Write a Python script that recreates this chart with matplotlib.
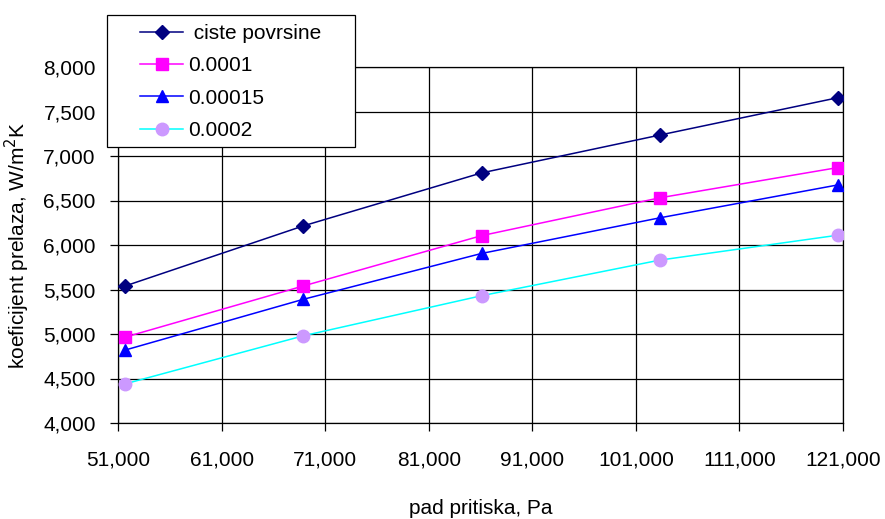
import matplotlib
matplotlib.use("Agg")
import matplotlib.pyplot as plt
from matplotlib.patches import Rectangle
from matplotlib.ticker import FuncFormatter, FixedLocator, MultipleLocator

plt.rcParams['font.family'] = ['Liberation Sans', 'DejaVu Sans']

# pressure drop, Pa
pad_pritiska = [51700, 68900, 86100, 103300, 120500]

# heat transfer coefficient, W/m2K, for each fouling factor
ciste_povrsine = [5540, 6215, 6810, 7235, 7655]
r_0001 = [4965, 5540, 6105, 6530, 6870]
r_00015 = [4820, 5390, 5905, 6305, 6675]
r_0002 = [4440, 4980, 5430, 5830, 6110]

series_labels = [" ciste povrsine", "0.0001", "0.00015", "0.0002"]
x_ticks = [51000, 61000, 71000, 81000, 91000, 101000, 111000, 121000]

W, H = 885, 519
fig = plt.figure(figsize=(W / 100, H / 100), dpi=100)
ax = fig.add_axes([118 / W, 1 - 423 / H, (843 - 118) / W, (423 - 67) / H])

FS = 15

ax.plot(pad_pritiska, ciste_povrsine, color='#000080', lw=1.1, marker='D',
        ms=7, mfc='#000080', mec='#000080', label=series_labels[0], zorder=4)
ax.plot(pad_pritiska, r_0001, color='#FF00FF', lw=1.1, marker='s',
        ms=9, mfc='#FF00FF', mec='#FF00FF', label=series_labels[1], zorder=4)
ax.plot(pad_pritiska, r_00015, color='#0000FF', lw=1.1, marker='^',
        ms=9, mfc='#0000FF', mec='#0000FF', label=series_labels[2], zorder=4)
ax.plot(pad_pritiska, r_0002, color='#00FFFF', lw=1.1, marker='o',
        ms=9, mfc='#CC99FF', mec='#CC99FF', label=series_labels[3], zorder=4)

ax.set_xlim(x_ticks[0], x_ticks[-1])
ax.set_ylim(4000, 8000)
ax.xaxis.set_major_locator(FixedLocator(x_ticks))
ax.yaxis.set_major_locator(MultipleLocator(500))
fmt = FuncFormatter(lambda v, p: f"{int(round(v)):,}")
ax.xaxis.set_major_formatter(fmt)
ax.yaxis.set_major_formatter(fmt)

ax.grid(True, color='black', lw=0.9)
ax.set_axisbelow(True)
for s in ax.spines.values():
    s.set_color('black')
    s.set_linewidth(0.9)

ax.tick_params(axis='both', direction='out', length=6, width=0.9,
               color='black', labelsize=FS)
ax.tick_params(axis='x', pad=14)
ax.tick_params(axis='y', pad=10)

ax.set_xlabel("pad pritiska, Pa", fontsize=FS, labelpad=21)
ax.set_ylabel("koeficijent prelaza, W/m$^2$K", fontsize=FS, labelpad=8)

# legend box drawn separately so its size is independent of the entries
fig.patches.append(Rectangle((107 / W, 1 - 147 / H), (355 - 107) / W,
                             (147 - 15) / H, transform=fig.transFigure,
                             facecolor='white', edgecolor='black', lw=0.9,
                             zorder=9))
fs_px = FS * 100 / 72
leg = fig.legend(loc='upper left', bbox_to_anchor=(140 / W, 1 - 24 / H),
                 fontsize=FS, frameon=False, handlelength=43 / fs_px,
                 handletextpad=5 / fs_px, labelspacing=0.64,
                 borderpad=0, borderaxespad=0)
leg.set_zorder(10)

fig.savefig("out.png", dpi=100)
